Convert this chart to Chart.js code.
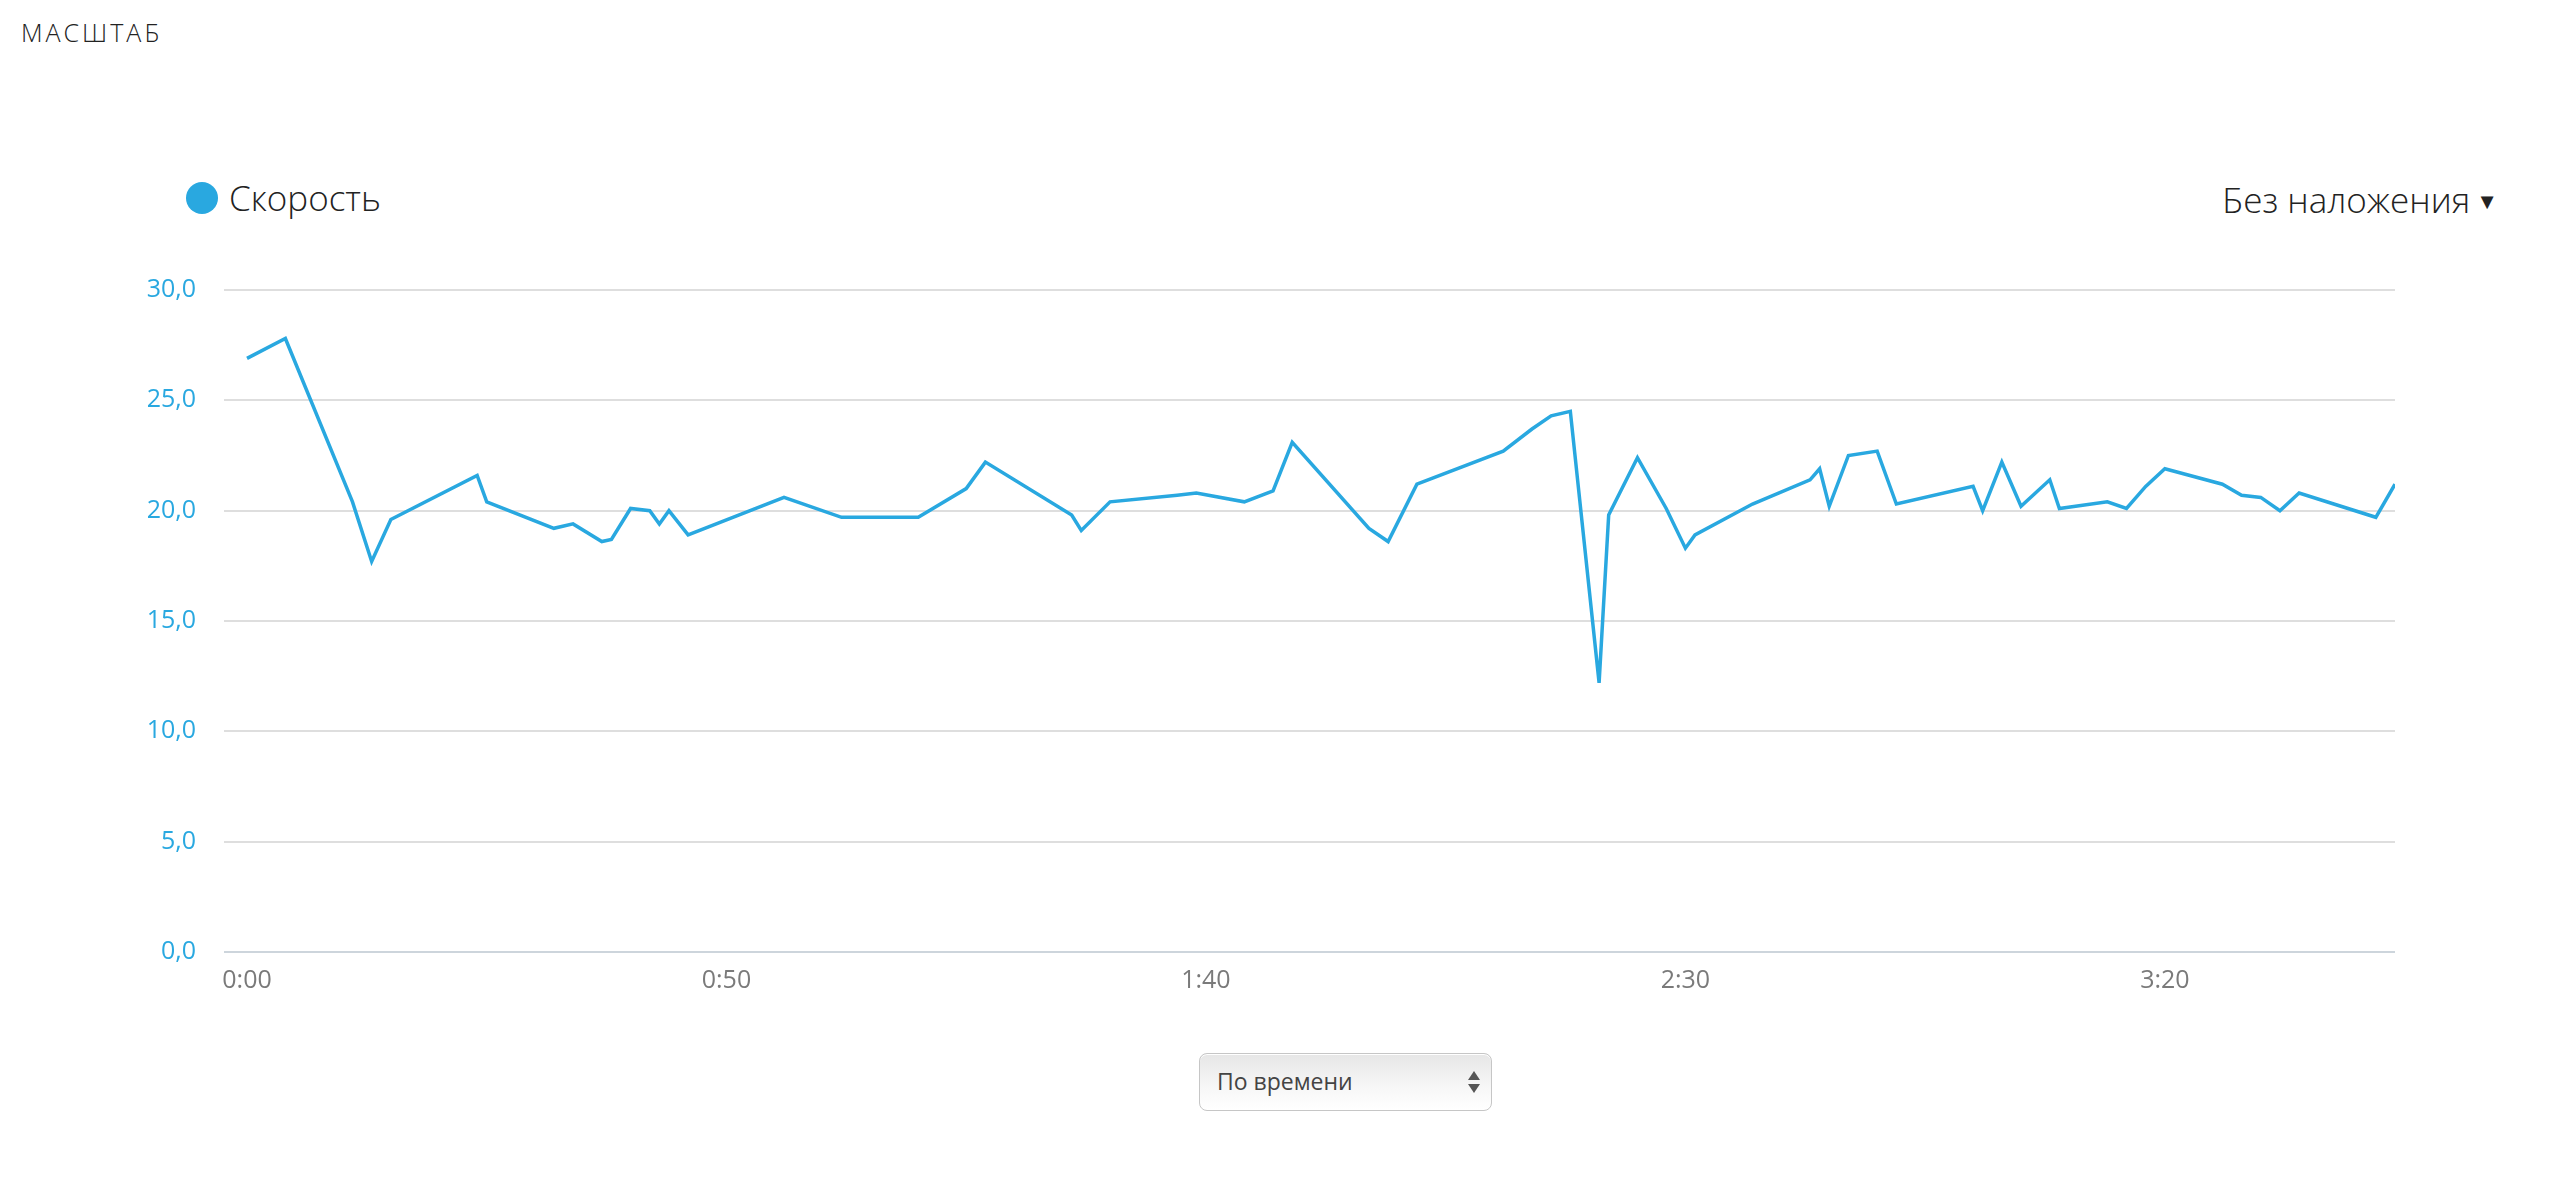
<!DOCTYPE html>
<html lang="ru">
<head>
<meta charset="utf-8">
<title>Скорость</title>
<script src="https://cdn.jsdelivr.net/npm/chart.js@4/dist/chart.umd.min.js"></script>
<style>
  body { margin: 0; background: #fff; font-family: 'Open Sans', sans-serif; }
  .page { position: relative; width: 2560px; height: 1179px; overflow: hidden; }
  .title { position: absolute; left: 21px; top: 20px; font-size: 25px; line-height: 1; font-weight: 300; letter-spacing: 3px; color: #222; }
  .legend { position: absolute; left: 186px; top: 180px; font-size: 35px; line-height: 1; font-weight: 300; color: #222; }
  .legend .dot { position: absolute; left: 0; top: 2px; width: 32px; height: 32px; border-radius: 50%; background: #29a8e0; }
  .legend span { margin-left: 43px; }
  .overlay { position: absolute; right: 62px; top: 182px; font-size: 35px; line-height: 1; font-weight: 300; color: #222; }
  .overlay .arrow { font-size: 22px; margin-left: 6px; vertical-align: 4px; }
  .chart-box { position: absolute; left: 0; top: 247px; width: 2560px; height: 765px; }
  .select { position: absolute; left: 1199px; top: 1053px; width: 291px; height: 56px; border: 1px solid #c6c6c6; border-radius: 8px;
            background: linear-gradient(#e6e6e6, #f7f7f7 60%, #ffffff); box-shadow: inset 0 1px 0 #fff; }
  .select .txt { position: absolute; left: 17px; top: 16px; font-size: 23px; line-height: 1; color: #444; }
  .select .up, .select .down { position: absolute; left: 268px; width: 0; height: 0; border-left: 6px solid transparent; border-right: 6px solid transparent; }
  .select .up { top: 17px; border-bottom: 9px solid #555; }
  .select .down { top: 30px; border-top: 9px solid #555; }
</style>
</head>
<body>
<div class="page">
  <div class="title">МАСШТАБ</div>
  <div class="legend"><div class="dot"></div><span>Скорость</span></div>
  <div class="overlay">Без наложения<span class="arrow">▼</span></div>
  <div class="chart-box"><canvas id="speedChart"></canvas></div>
  <div class="select"><div class="txt">По времени</div><div class="up"></div><div class="down"></div></div>
</div>
<script>
// --- Data (time in seconds, speed) ---
const times = [0, 4, 11, 13, 15, 24, 25, 32, 34, 37, 38, 40, 42, 43, 44, 46, 56, 62, 70, 75,
    77, 86, 87, 90, 97, 99, 104, 107, 109, 117, 119, 122, 131, 134, 136, 138, 141, 142, 145, 148,
    150, 151, 157, 163, 164, 165, 167, 170, 172, 180, 181, 183, 185, 188, 189, 194, 196, 198, 200, 206,
    208, 210, 212, 214, 222, 224];
const speeds = [26.9, 27.8, 20.4, 17.7, 19.6, 21.6, 20.4, 19.2, 19.4, 18.6, 18.7, 20.1, 20.0, 19.4, 20.0, 18.9, 20.6, 19.7, 19.7, 21.0,
    22.2, 19.8, 19.1, 20.4, 20.7, 20.8, 20.4, 20.9, 23.1, 19.2, 18.6, 21.2, 22.7, 23.7, 24.3, 24.5, 12.2, 19.8, 22.4, 20.1,
    18.3, 18.9, 20.3, 21.4, 21.9, 20.2, 22.5, 22.7, 20.3, 21.1, 20.0, 22.2, 20.2, 21.4, 20.1, 20.4, 20.1, 21.1, 21.9, 21.2,
    20.7, 20.6, 20.0, 20.8, 19.7, 21.2];
const xTicks = [0, 50, 100, 150, 200];
const yTicks = [0, 5, 10, 15, 20, 25, 30];

const BLUE = '#29a8e0';

function fmtTime(sec) {
    const m = Math.floor(sec / 60);
    const s = sec % 60;
    return m + ':' + (s < 10 ? '0' : '') + s;
}

Chart.defaults.font.family = "'Open Sans', sans-serif";

const ctx = document.getElementById('speedChart').getContext('2d');
new Chart(ctx, {
    type: 'line',
    data: {
        datasets: [{
            label: 'Скорость',
            data: times.map((t, i) => ({ x: t, y: speeds[i] })),
            borderColor: BLUE,
            borderWidth: 3.5,
            pointRadius: 0,
            tension: 0,
            fill: false
        }]
    },
    options: {
        responsive: true,
        maintainAspectRatio: false,
        animation: false,
        layout: { padding: { top: 16, right: 165, left: 0, bottom: 0 } },
        plugins: { legend: { display: false }, tooltip: { enabled: false } },
        scales: {
            x: {
                type: 'linear',
                min: -2.4,
                max: 224,
                grid: { display: false, drawTicks: false },
                border: { display: false },
                afterBuildTicks: (scale) => { scale.ticks = xTicks.map(v => ({ value: v })); },
                afterFit: (scale) => { scale.height = 60; },
                ticks: {
                    color: '#7a7a7a',
                    font: { size: 25 },
                    padding: 14,
                    maxRotation: 0,
                    callback: (v) => fmtTime(v)
                }
            },
            y: {
                min: 0,
                max: 30,
                afterBuildTicks: (scale) => { scale.ticks = yTicks.map(v => ({ value: v })); },
                afterFit: (scale) => { scale.width = 224; },
                grid: {
                    drawTicks: false,
                    lineWidth: 2,
                    color: (c) => (c.tick && c.tick.value === 0) ? '#cdd5dc' : '#dedede'
                },
                border: { display: false },
                ticks: {
                    color: BLUE,
                    font: { size: 25 },
                    padding: 28,
                    callback: (v) => v.toFixed(1).replace('.', ',')
                }
            }
        }
    }
});
</script>
</body>
</html>
